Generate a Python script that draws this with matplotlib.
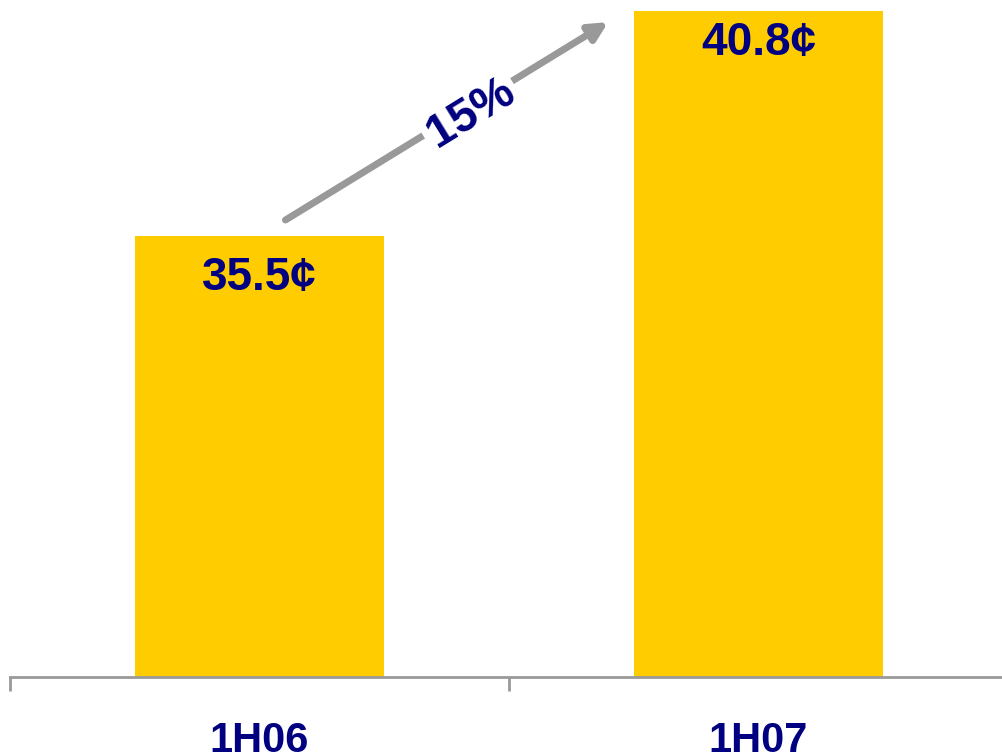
import matplotlib
matplotlib.use("Agg")
import matplotlib.pyplot as plt

periods = ["1H06", "1H07"]
dividend_cents = [35.5, 40.8]
growth_label = "15%"

BAR = "#FFCC00"
NAVY = "#000080"
GREY = "#999999"

plt.rcParams["font.family"] = ["Liberation Sans", "DejaVu Sans"]

fig = plt.figure(figsize=(10.02, 7.52), dpi=100)
ax = fig.add_axes([10 / 1002, 75 / 752, 998 / 1002, 677 / 752])

x = range(len(periods))
bars = ax.bar(x, dividend_cents, width=0.5, color=BAR, zorder=2)

ax.set_xlim(-0.5, 1.5)
ax.set_ylim(25.1, 41.07)

# value labels inside the top of each bar
for rect, val, off in zip(bars, dividend_cents, [-30, -23]):
    ax.annotate(f"{val:.1f}¢", (rect.get_x() + rect.get_width() / 2, val),
                xytext=(0, off), textcoords="offset points",
                ha="center", va="center", fontsize=33, fontweight="bold",
                color=NAVY, zorder=3)

# growth arrow between the two periods
ax.annotate("", xy=(0.699, 40.55), xytext=(0.052, 35.88),
            arrowprops=dict(arrowstyle="-|>,head_length=1.1,head_width=0.55",
                            color=GREY, lw=5, shrinkA=0, shrinkB=0),
            zorder=4)
ax.text(0.423, 38.4, growth_label, rotation=31.6, rotation_mode="anchor",
        ha="center", va="center", fontsize=34, fontweight="bold", color=NAVY,
        bbox=dict(boxstyle="square,pad=0.1", fc="white", ec="none"), zorder=5)

for side in ["top", "right", "left"]:
    ax.spines[side].set_visible(False)
ax.spines["bottom"].set_color(GREY)
ax.spines["bottom"].set_linewidth(2)

ax.set_yticks([])
ax.set_xticks(list(x))
ax.set_xticklabels(periods, fontsize=30, fontweight="bold", color=NAVY)
ax.tick_params(axis="x", which="major", length=0, pad=32)
ax.set_xticks([-0.5, 0.5, 1.5], minor=True)
ax.tick_params(axis="x", which="minor", length=10, width=2, color=GREY)

fig.savefig("out.png", dpi=100)
